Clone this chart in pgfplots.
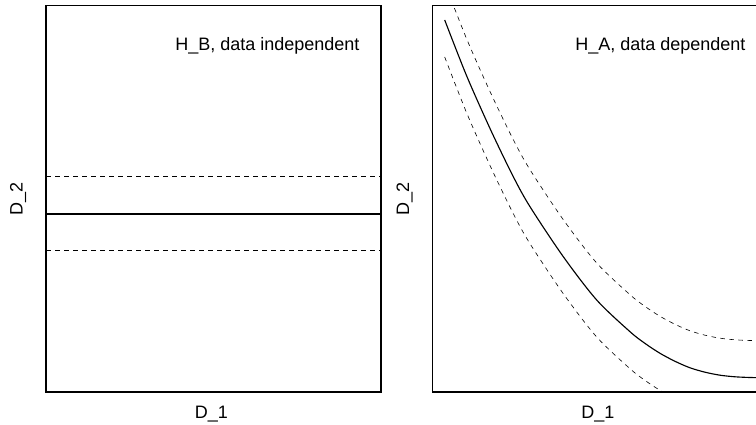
\documentclass[border=0pt]{standalone}
\usepackage{fontspec}
\setmainfont{Liberation Sans}
\usepackage{pgfplots}
\pgfplotsset{compat=1.18}

% coordinates below are read in pixels of the 756x425 reference (1px = 2/3 pt)
\pgfplotsset{
  panel/.style={
    scale only axis,
    width=223.33pt, height=257.8pt,
    y dir=reverse,
    ymin=5.3, ymax=392,
    xtick=\empty, ytick=\empty,
    axis line style={line width=0.75pt},
    clip mode=individual,
    cycle list={{black, line width=0.75pt, mark=none}},
  },
  dashr/.style={dash pattern=on 3pt off 3pt},
}
\newcommand{\rfont}{\fontsize{12pt}{14pt}\selectfont}

\begin{document}
\begin{tikzpicture}
% left panel
\begin{axis}[panel, at={(30.667pt,22pt)}, anchor=south west, xmin=46, xmax=381]
\addplot+[dashr] coordinates {(46,176.3) (381,176.3)};
\addplot+[solid] coordinates {(46,214) (381,214)};
\addplot+[dashr] coordinates {(46,250.7) (381,250.7)};
\node[anchor=base west, font=\rfont, inner sep=0pt] at (axis cs:175,50.5) {H\_B, data independent};
\node[anchor=base, font=\rfont, inner sep=0pt] at (axis cs:211.5,418.7) {D\_1};
\node[anchor=base, rotate=90, font=\rfont, inner sep=0pt] at (axis cs:22.7,199) {D\_2};
\end{axis}

% right panel (cut off at the right edge in the reference)
\begin{axis}[panel, at={(288.2pt,22pt)}, anchor=south west, xmin=432.3, xmax=767.3]
\addplot+[dashr, smooth] coordinates {
(444.7,-17) (466.7,39) (490.7,93) (513.3,139.7) (530,169.7) (563.3,219.7)
(596.7,263) (630,294.7) (645,306.4) (660,316.3) (675,324.3) (690,330.8)
(705,335.2) (720,338.2) (735,339.8) (750,340.5) (767,340.8)
};
\addplot+[solid, smooth] coordinates {
(444.7,20) (466.7,76) (490.7,130) (513.3,176.7) (530,206.7) (563.3,256.7)
(596.7,300) (630,331.7) (645,343.4) (660,353.3) (675,361.3) (690,367.8)
(705,372.2) (720,375.2) (735,376.8) (750,377.5) (767,377.8)
};
\addplot+[dashr, smooth] coordinates {
(444.7,57) (466.7,113) (490.7,167) (513.3,213.7) (530,243.7) (563.3,293.7)
(596.7,337) (630,368.7) (645,380.4) (660,390.3) (675,398.3)
};
\node[anchor=base west, font=\rfont, inner sep=0pt] at (axis cs:575,50.5) {H\_A, data dependent};
\node[anchor=base, font=\rfont, inner sep=0pt] at (axis cs:598,418.7) {D\_1};
\node[anchor=base, rotate=90, font=\rfont, inner sep=0pt] at (axis cs:409,199) {D\_2};
\end{axis}
\pgfresetboundingbox
\path[use as bounding box] (0,0) rectangle (504pt,283.33pt);
\end{tikzpicture}
\end{document}
